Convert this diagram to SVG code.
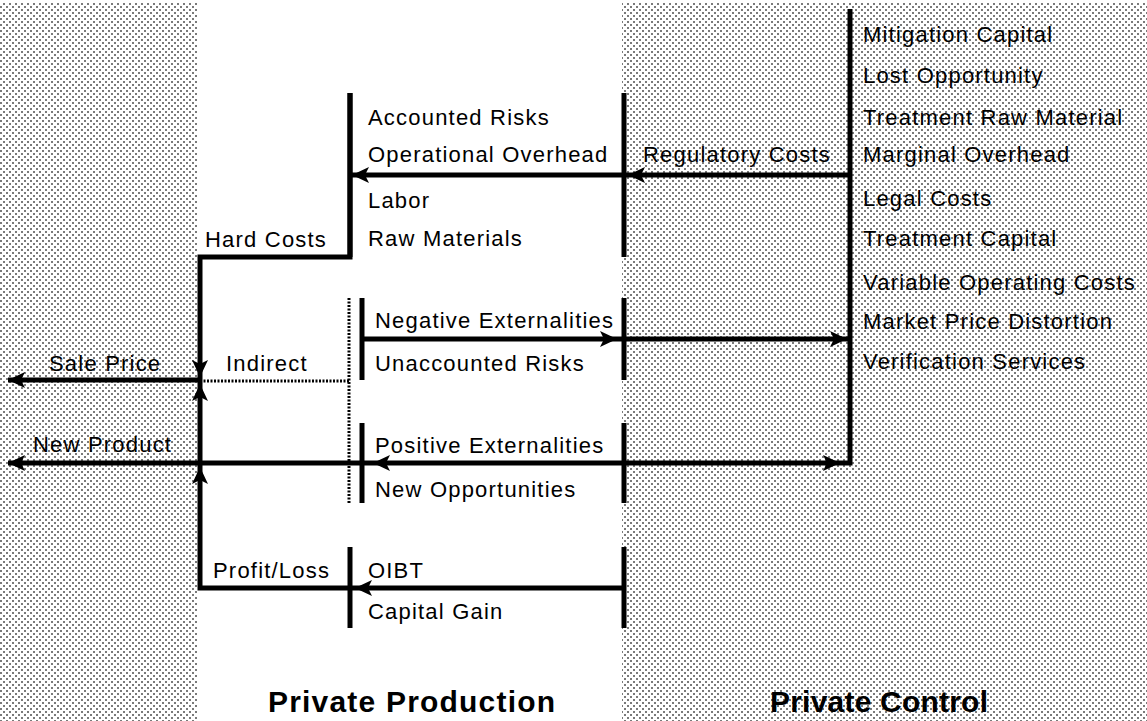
<svg xmlns="http://www.w3.org/2000/svg" width="1147" height="721" viewBox="0 0 1147 721">
  <defs>
    <!-- halftone screen used for the two shaded zones -->
    <pattern id="screen" width="6" height="6" patternUnits="userSpaceOnUse">
      <rect x="0" y="0" width="2" height="2" fill="#7a7a7a"/>
      <rect x="3" y="3" width="2" height="2" fill="#7a7a7a"/>
    </pattern>
    <!-- arrowhead pointing right, tip at origin -->
    <path id="ah" d="M0,0 L-17,-8 L-13,0 L-17,8 Z" fill="#000"/>
    <style>
      .lbl { font-family: "Liberation Sans", Arial, sans-serif; font-size: 22px; letter-spacing: 1.2px; fill: #000; }
      .ttl { font-family: "Liberation Sans", Arial, sans-serif; font-size: 30px; font-weight: bold; fill: #000; }
      .bar { stroke: #000; stroke-width: 5; fill: none; }
      .wire { stroke: #000; stroke-width: 5; fill: none; stroke-linejoin: miter; }
      .dot { stroke: #000; stroke-width: 3; fill: none; stroke-dasharray: 2 1.5; }
    </style>
  </defs>

  <!-- background zones -->
  <rect x="0" y="0" width="1147" height="721" fill="#fff"/>
  <rect x="0" y="3" width="198" height="718" fill="url(#screen)"/>
  <rect x="622" y="3" width="525" height="718" fill="url(#screen)"/>

  <!-- connectors -->
  <g id="connectors">
    <path class="wire" d="M350,93 V257 H200 V588 H624"/>
    <path class="wire" d="M850,9 V463 H8"/>
    <path class="wire" d="M850,175 H350"/>
    <path class="wire" d="M362,339 H850"/>
    <path class="wire" d="M200,380 H8"/>
    <path class="dot" d="M200,381 H349"/>
    <path class="dot" d="M349,298 V503"/>
    <!-- arrowheads -->
    <use href="#ah" transform="translate(352,175) rotate(180)"/>
    <use href="#ah" transform="translate(628,175) rotate(180)"/>
    <use href="#ah" transform="translate(617,339)"/>
    <use href="#ah" transform="translate(847,339)"/>
    <use href="#ah" transform="translate(8,380) rotate(180)"/>
    <use href="#ah" transform="translate(200,377) rotate(90)"/>
    <use href="#ah" transform="translate(200,384) rotate(-90)"/>
    <use href="#ah" transform="translate(8,463) rotate(180)"/>
    <use href="#ah" transform="translate(373,463) rotate(180)"/>
    <use href="#ah" transform="translate(840,463)"/>
    <use href="#ah" transform="translate(200,467) rotate(-90)"/>
    <use href="#ah" transform="translate(355,588) rotate(180)"/>
  </g>

  <!-- hard costs block -->
  <g id="hard-costs">
    <line class="bar" x1="350" y1="93" x2="350" y2="257"/>
    <line class="bar" x1="624" y1="93" x2="624" y2="257"/>
    <text class="lbl" x="368" y="125">Accounted Risks</text>
    <text class="lbl" x="368" y="162">Operational Overhead</text>
    <text class="lbl" x="368" y="208">Labor</text>
    <text class="lbl" x="368" y="246">Raw Materials</text>
    <text class="lbl" x="205" y="247">Hard Costs</text>
  </g>

  <!-- negative externalities block -->
  <g id="negative">
    <line class="bar" x1="362" y1="298" x2="362" y2="380"/>
    <line class="bar" x1="624" y1="298" x2="624" y2="380"/>
    <text class="lbl" x="375" y="328">Negative Externalities</text>
    <text class="lbl" x="375" y="371">Unaccounted Risks</text>
    <text class="lbl" x="226" y="371">Indirect</text>
  </g>

  <!-- positive externalities block -->
  <g id="positive">
    <line class="bar" x1="362" y1="423" x2="362" y2="503"/>
    <line class="bar" x1="624" y1="423" x2="624" y2="503"/>
    <text class="lbl" x="375" y="453">Positive Externalities</text>
    <text class="lbl" x="375" y="497">New Opportunities</text>
  </g>

  <!-- profit block -->
  <g id="profit">
    <line class="bar" x1="350" y1="547" x2="350" y2="628"/>
    <line class="bar" x1="624" y1="547" x2="624" y2="628"/>
    <text class="lbl" x="368" y="578">OIBT</text>
    <text class="lbl" x="368" y="619">Capital Gain</text>
    <text class="lbl" x="213" y="578">Profit/Loss</text>
  </g>

  <!-- outputs -->
  <g id="outputs">
    <text class="lbl" x="49" y="371">Sale Price</text>
    <text class="lbl" x="33" y="452">New Product</text>
  </g>

  <!-- regulatory -->
  <g id="regulatory">
    <text class="lbl" x="643" y="162">Regulatory Costs</text>
  </g>

  <!-- control cost list -->
  <g id="control-costs">
    <text class="lbl" x="863" y="42">Mitigation Capital</text>
    <text class="lbl" x="863" y="83">Lost Opportunity</text>
    <text class="lbl" x="863" y="125">Treatment Raw Material</text>
    <text class="lbl" x="863" y="162">Marginal Overhead</text>
    <text class="lbl" x="863" y="206">Legal Costs</text>
    <text class="lbl" x="863" y="246">Treatment Capital</text>
    <text class="lbl" x="863" y="290">Variable Operating Costs</text>
    <text class="lbl" x="863" y="329">Market Price Distortion</text>
    <text class="lbl" x="863" y="369">Verification Services</text>
  </g>

  <!-- zone titles -->
  <g id="titles">
    <text class="ttl" x="268" y="712" textLength="287" lengthAdjust="spacing">Private Production</text>
    <text class="ttl" x="770" y="712" textLength="218" lengthAdjust="spacing">Private Control</text>
  </g>
</svg>
